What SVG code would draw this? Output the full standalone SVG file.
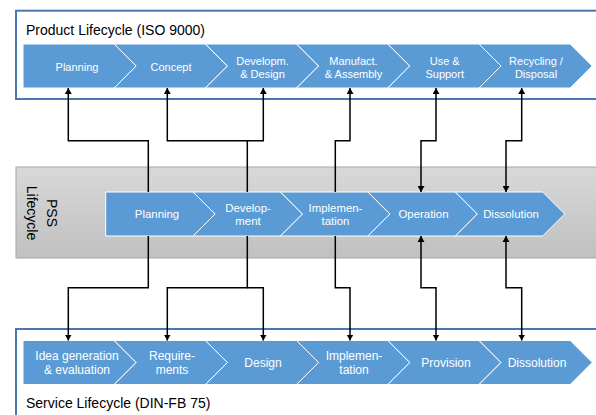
<svg xmlns="http://www.w3.org/2000/svg" width="596" height="415" viewBox="0 0 596 415">
<style>
.box{fill:#fff;stroke:#4a78ad;stroke-width:2}
.chev{fill:#5b9bd5;stroke:#fff;stroke-width:1}
.t{font-family:"Liberation Sans",Arial,sans-serif;fill:#fff;text-anchor:middle}
.t11{font-size:11px}
.t115{font-size:11.4px}
.t12{font-size:12px}
.title{font-family:"Liberation Sans",Arial,sans-serif;font-size:14px;fill:#000}
.con{fill:none;stroke:#000;stroke-width:1.5}
</style>
<defs>
<linearGradient id="gray" x1="0" y1="0" x2="0" y2="1">
<stop offset="0" stop-color="#d8d8d8"/>
<stop offset="1" stop-color="#c0c0c0"/>
</linearGradient>
<marker id="ah" markerUnits="userSpaceOnUse" markerWidth="8" markerHeight="8" refX="6" refY="3.5" orient="auto">
<path d="M0,0 L6,3.5 L0,7 Z" fill="#000"/>
</marker>
<marker id="as" markerUnits="userSpaceOnUse" markerWidth="8" markerHeight="8" refX="0" refY="3.5" orient="auto">
<path d="M6,0 L0,3.5 L6,7 Z" fill="#000"/>
</marker>
</defs>

<g id="product-lifecycle">
<rect class="box" x="16" y="10.7" width="600" height="88.3"/>
<text class="title" x="26" y="35">Product Lifecycle (ISO 9000)</text>
</g>
<g id="p1"><path class="chev" d="M23,44 H114.2 L136.2,66 L114.2,88 H23 Z"/><text class="t t11" x="77" y="70.5">Planning</text></g>
<g id="p2"><path class="chev" d="M114.2,44 H205.4 L227.4,66 L205.4,88 H114.2 L136.2,66 Z"/><text class="t t11" x="171" y="70.5">Concept</text></g>
<g id="p3"><path class="chev" d="M205.4,44 H296.6 L318.6,66 L296.6,88 H205.4 L227.4,66 Z"/><text class="t t11" x="262.5" y="64.5">Developm.</text><text class="t t11" x="262.5" y="77.5">&amp; Design</text></g>
<g id="p4"><path class="chev" d="M296.6,44 H387.8 L409.8,66 L387.8,88 H296.6 L318.6,66 Z"/><text class="t t11" x="353.5" y="64.5">Manufact.</text><text class="t t11" x="353.5" y="77.5">&amp; Assembly</text></g>
<g id="p5"><path class="chev" d="M387.8,44 H479 L501,66 L479,88 H387.8 L409.8,66 Z"/><text class="t t11" x="444.7" y="64.5">Use &amp;</text><text class="t t11" x="444.7" y="77.5">Support</text></g>
<g id="p6"><path class="chev" d="M479,44 H570.2 L592.2,66 L570.2,88 H479 L501,66 Z"/><text class="t t11" x="536" y="64.5">Recycling /</text><text class="t t11" x="536" y="77.5">Disposal</text></g>

<g id="pss-lifecycle">
<rect x="16" y="167" width="600" height="91" fill="url(#gray)" stroke="#a6a6a6" stroke-width="1"/>
<text class="title" transform="translate(52,213) rotate(90)" text-anchor="middle" dy="5">PSS</text>
<text class="title" transform="translate(32,213) rotate(90)" text-anchor="middle" dy="5">Lifecycle</text>
</g>
<g id="s1"><path class="chev" d="M105.7,192 H193.1 L215.1,214 L193.1,236 H105.7 Z"/><text class="t t115" x="157" y="218">Planning</text></g>
<g id="s2"><path class="chev" d="M193.1,192 H280.5 L302.5,214 L280.5,236 H193.1 L215.1,214 Z"/><text class="t t115" x="248" y="211.5">Develop-</text><text class="t t115" x="248" y="225">ment</text></g>
<g id="s3"><path class="chev" d="M280.5,192 H367.9 L389.9,214 L367.9,236 H280.5 L302.5,214 Z"/><text class="t t115" x="335.5" y="211.5">Implemen-</text><text class="t t115" x="335.5" y="225">tation</text></g>
<g id="s4"><path class="chev" d="M367.9,192 H455.3 L477.3,214 L455.3,236 H367.9 L389.9,214 Z"/><text class="t t115" x="423.5" y="218">Operation</text></g>
<g id="s5"><path class="chev" d="M455.3,192 H542.7 L564.7,214 L542.7,236 H455.3 L477.3,214 Z"/><text class="t t115" x="511" y="218">Dissolution</text></g>

<g id="service-lifecycle">
<rect class="box" x="16" y="329" width="600" height="100"/>
<text class="title" x="26" y="408">Service Lifecycle (DIN-FB 75)</text>
</g>
<g id="v1"><path class="chev" d="M23,340.5 H114.2 L136.2,362.5 L114.2,384.5 H23 Z"/><text class="t t12" x="77" y="360">Idea generation</text><text class="t t12" x="77" y="374">&amp; evaluation</text></g>
<g id="v2"><path class="chev" d="M114.2,340.5 H205.4 L227.4,362.5 L205.4,384.5 H114.2 L136.2,362.5 Z"/><text class="t t12" x="172" y="360">Require-</text><text class="t t12" x="172" y="374">ments</text></g>
<g id="v3"><path class="chev" d="M205.4,340.5 H296.6 L318.6,362.5 L296.6,384.5 H205.4 L227.4,362.5 Z"/><text class="t t12" x="263" y="367">Design</text></g>
<g id="v4"><path class="chev" d="M296.6,340.5 H387.8 L409.8,362.5 L387.8,384.5 H296.6 L318.6,362.5 Z"/><text class="t t12" x="354" y="360">Implemen-</text><text class="t t12" x="354" y="374">tation</text></g>
<g id="v5"><path class="chev" d="M387.8,340.5 H479 L501,362.5 L479,384.5 H387.8 L409.8,362.5 Z"/><text class="t t12" x="446" y="367">Provision</text></g>
<g id="v6"><path class="chev" d="M479,340.5 H570.2 L592.2,362.5 L570.2,384.5 H479 L501,362.5 Z"/><text class="t t12" x="537" y="367">Dissolution</text></g>

<g id="connectors">
<path class="con" d="M148.3,192 V140.7 H68.3 V88" marker-end="url(#ah)"/>
<path class="con" d="M247.3,192 V140.7 H167.3 V88" marker-end="url(#ah)"/>
<path class="con" d="M247.3,140.7 H263.3 V88" marker-end="url(#ah)"/>
<path class="con" d="M335.3,192 V140.7 H350 V88" marker-end="url(#ah)"/>
<path class="con" d="M421,192 V140.7 H436 V88" marker-start="url(#as)" marker-end="url(#ah)"/>
<path class="con" d="M506,192 V140.7 H521.7 V88" marker-start="url(#as)" marker-end="url(#ah)"/>
<path class="con" d="M148.3,236 V287.7 H68.3 V340.5" marker-end="url(#ah)"/>
<path class="con" d="M247.3,236 V287.7 H167.3 V340.5" marker-end="url(#ah)"/>
<path class="con" d="M247.3,287.7 H263.3 V340.5" marker-end="url(#ah)"/>
<path class="con" d="M335.3,236 V287.7 H350 V340.5" marker-end="url(#ah)"/>
<path class="con" d="M421,236 V287.7 H436 V340.5" marker-start="url(#as)" marker-end="url(#ah)"/>
<path class="con" d="M506,236 V287.7 H521.7 V340.5" marker-start="url(#as)" marker-end="url(#ah)"/>
</g>
</svg>
